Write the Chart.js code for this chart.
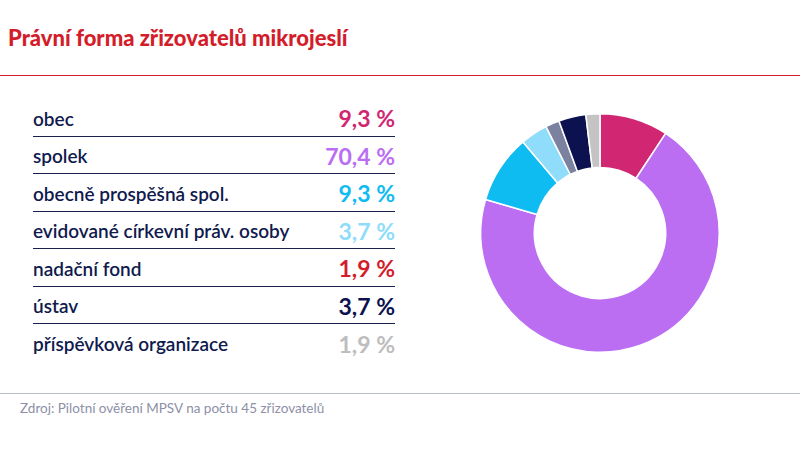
<!DOCTYPE html>
<html><head><meta charset="utf-8">
<script src="https://cdn.jsdelivr.net/npm/chart.js@4"></script>
<style>
body{margin:0;width:800px;height:449px;background:#fff;font-family:Lato,"Open Sans",sans-serif;position:relative;overflow:hidden}
#title{position:absolute;left:8px;top:24px;font-size:22px;font-weight:900;color:#d31d2a}
#redline{position:absolute;left:0;top:75px;width:800px;height:1px;background:#d31d2a}
#table{position:absolute;left:33px;top:99px;width:362px}
.row{height:37.5px;border-bottom:1.5px solid #1b1f4b;display:flex;justify-content:space-between;align-items:center;box-sizing:border-box;padding-top:2px}
.row:last-child{border-bottom:none}
.lab{font-size:19px;color:#0f1a4d;font-weight:600}
.val{font-size:23px;font-weight:bold}
#grayline{position:absolute;left:0;top:393px;width:800px;height:1px;background:#b9bccb}
#src{position:absolute;left:20px;top:400px;font-size:13.5px;color:#8d90a6}
#wrap{position:absolute;left:470px;top:103px;width:260px;height:260px}
</style></head><body>
<div id="title">Právní forma zřizovatelů mikrojeslí</div>
<div id="redline"></div>
<div id="table"></div>
<div id="grayline"></div>
<div id="src">Zdroj: Pilotní ověření MPSV na počtu 45 zřizovatelů</div>
<div id="wrap"><canvas id="c" width="260" height="260"></canvas></div>
<script>
const categories=["obec","spolek","obecně prospěšná spol.","evidované církevní práv. osoby","nadační fond","ústav","příspěvková organizace"];
const values=[9.3,70.4,9.3,3.7,1.9,3.7,1.9];
const valueLabels=["9,3 %","70,4 %","9,3 %","3,7 %","1,9 %","3,7 %","1,9 %"];
const textColors=["#d12672","#bb6ef2","#0fbcf2","#8fdcfb","#d31d2a","#0c1250","#bdbdbd"];
const sliceColors=["#d12672","#bb6ef2","#0fbcf2","#8fdcfb","#7b82a0","#0c1250","#c4c4c4"];
const t=document.getElementById('table');
categories.forEach((c,i)=>{const r=document.createElement('div');r.className='row';
r.innerHTML='<span class="lab">'+c+'</span><span class="val" style="color:'+textColors[i]+'">'+valueLabels[i]+'</span>';t.appendChild(r);});
new Chart(document.getElementById('c'),{type:'doughnut',
data:{labels:categories,datasets:[{data:values,backgroundColor:sliceColors,borderColor:'#fff',borderWidth:1.5}]},
options:{responsive:false,animation:false,cutout:'55%',layout:{padding:10},
plugins:{legend:{display:false},tooltip:{enabled:false}}}});
</script>
</body></html>
